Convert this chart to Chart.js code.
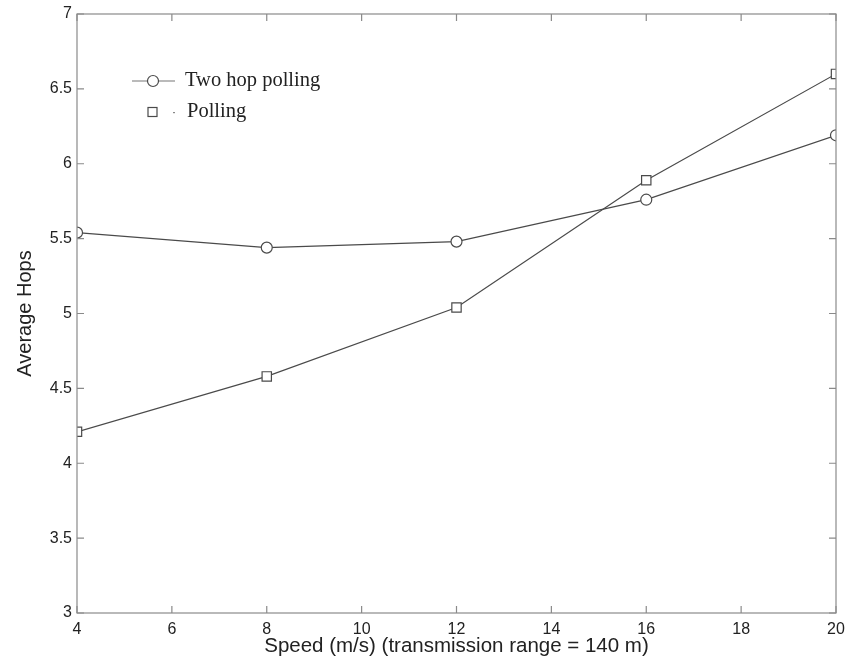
<!DOCTYPE html>
<html>
<head>
<meta charset="utf-8">
<script src="https://cdn.jsdelivr.net/npm/chart.js@4"></script>
<style>
    html, body { margin: 0; padding: 0; background: #fff; }
    #wrap { width: 846px; height: 668px; }
</style>
</head>
<body>
<div id="wrap"><canvas id="hops"></canvas></div>
<script>
const speeds = [4, 8, 12, 16, 20];
const twoHopPolling = [5.54, 5.44, 5.48, 5.76, 6.19];
const polling = [4.21, 4.58, 5.04, 5.89, 6.60];
const xTicks = [4, 6, 8, 10, 12, 14, 16, 18, 20];
const yTicks = [3, 3.5, 4, 4.5, 5, 5.5, 6, 6.5, 7];
const seriesNames = ["Two hop polling", "Polling"];

const axisColor = "#8a8a8a";
const lineColor = "#4a4a4a";

function toPoints(ys) {
    return speeds.map(function(s, i) { return {x: s, y: ys[i]}; });
}

// box round the plot plus inward tick marks
const frame = {
    id: "frame",
    afterDraw(chart) {
        let ctx = chart.ctx;
        let a = chart.chartArea;
        let xs = chart.scales.x, ys = chart.scales.y;
        ctx.save();
        ctx.strokeStyle = axisColor;
        ctx.lineWidth = 1.2;
        ctx.strokeRect(a.left, a.top, a.right - a.left, a.bottom - a.top);
        ctx.beginPath();
        xTicks.forEach(function(v) {
            let px = xs.getPixelForValue(v);
            ctx.moveTo(px, a.bottom); ctx.lineTo(px, a.bottom - 7);
            ctx.moveTo(px, a.top); ctx.lineTo(px, a.top + 7);
        });
        yTicks.forEach(function(v) {
            let py = ys.getPixelForValue(v);
            ctx.moveTo(a.left, py); ctx.lineTo(a.left + 7, py);
            ctx.moveTo(a.right, py); ctx.lineTo(a.right - 7, py);
        });
        ctx.stroke();
        ctx.restore();
    }
};

// legend drawn inside the upper left of the plot
const innerLegend = {
    id: "innerLegend",
    afterDraw(chart) {
        let ctx = chart.ctx;
        let a = chart.chartArea;
        let x0 = a.left + 55, y0 = a.top + 67;
        ctx.save();
        ctx.font = "20.5px 'Liberation Serif'";
        ctx.textBaseline = "middle";
        // two hop polling
        ctx.strokeStyle = "#777";
        ctx.lineWidth = 1.2;
        ctx.beginPath();
        ctx.moveTo(x0, y0); ctx.lineTo(x0 + 43, y0);
        ctx.stroke();
        ctx.fillStyle = "#fff";
        ctx.strokeStyle = lineColor;
        ctx.beginPath();
        ctx.arc(x0 + 21, y0, 5.5, 0, Math.PI * 2);
        ctx.fill(); ctx.stroke();
        ctx.fillStyle = "#222";
        ctx.fillText(seriesNames[0], x0 + 53, y0);
        // polling
        let y1 = y0 + 31;
        ctx.strokeStyle = lineColor;
        ctx.strokeRect(x0 + 16, y1 - 4.5, 9, 9);
        ctx.fillStyle = "#888";
        ctx.fillRect(x0 + 41, y1, 2, 1.2);
        ctx.fillStyle = "#222";
        ctx.fillText(seriesNames[1], x0 + 55, y1);
        ctx.restore();
    }
};

new Chart(document.getElementById("hops"), {
    type: "line",
    data: {
        datasets: [
            {
                label: seriesNames[0],
                data: toPoints(twoHopPolling),
                borderColor: lineColor,
                borderWidth: 1.2,
                pointStyle: "circle",
                pointRadius: 5.5,
                pointBackgroundColor: "#fff",
                pointBorderColor: lineColor,
                pointBorderWidth: 1.2,
                tension: 0
            },
            {
                label: seriesNames[1],
                data: toPoints(polling),
                borderColor: lineColor,
                borderWidth: 1.2,
                pointStyle: "rect",
                pointRadius: 6.6,
                pointBackgroundColor: "#fff",
                pointBorderColor: lineColor,
                pointBorderWidth: 1.2,
                tension: 0
            }
        ]
    },
    options: {
        responsive: true,
        maintainAspectRatio: false,
        animation: false,
        layout: { padding: { top: 14, right: 10, left: 0, bottom: 0 } },
        plugins: { legend: { display: false }, tooltip: { enabled: false } },
        scales: {
            x: {
                type: "linear",
                min: 4,
                max: 20,
                afterBuildTicks: function(scale) {
                    scale.ticks = xTicks.map(function(v) { return {value: v}; });
                },
                afterFit: function(scale) {
                    scale.height = 55;
                    scale.paddingLeft = 0;
                    scale.paddingRight = 0;
                },
                grid: { display: false, drawTicks: false },
                border: { display: false },
                ticks: {
                    color: "#222",
                    padding: 7,
                    font: { family: "'Liberation Sans'", size: 16 }
                },
                title: {
                    display: true,
                    text: "Speed (m/s) (transmission range = 140 m)",
                    color: "#222",
                    padding: { top: 9, bottom: 9 },
                    font: { family: "'Liberation Sans'", size: 20.5 }
                }
            },
            y: {
                type: "linear",
                min: 3,
                max: 7,
                afterBuildTicks: function(scale) {
                    scale.ticks = yTicks.map(function(v) { return {value: v}; });
                },
                afterFit: function(scale) {
                    scale.width = 77;
                    scale.paddingTop = 0;
                    scale.paddingBottom = 0;
                },
                grid: { display: false, drawTicks: false },
                border: { display: false },
                ticks: {
                    color: "#222",
                    padding: 5,
                    font: { family: "'Liberation Sans'", size: 16 },
                    callback: function(v) { return String(v); }
                },
                title: {
                    display: true,
                    text: "Average Hops",
                    color: "#222",
                    padding: { top: 13, bottom: 13 },
                    font: { family: "'Liberation Sans'", size: 20 }
                }
            }
        }
    },
    plugins: [frame, innerLegend]
});
</script>
</body>
</html>
